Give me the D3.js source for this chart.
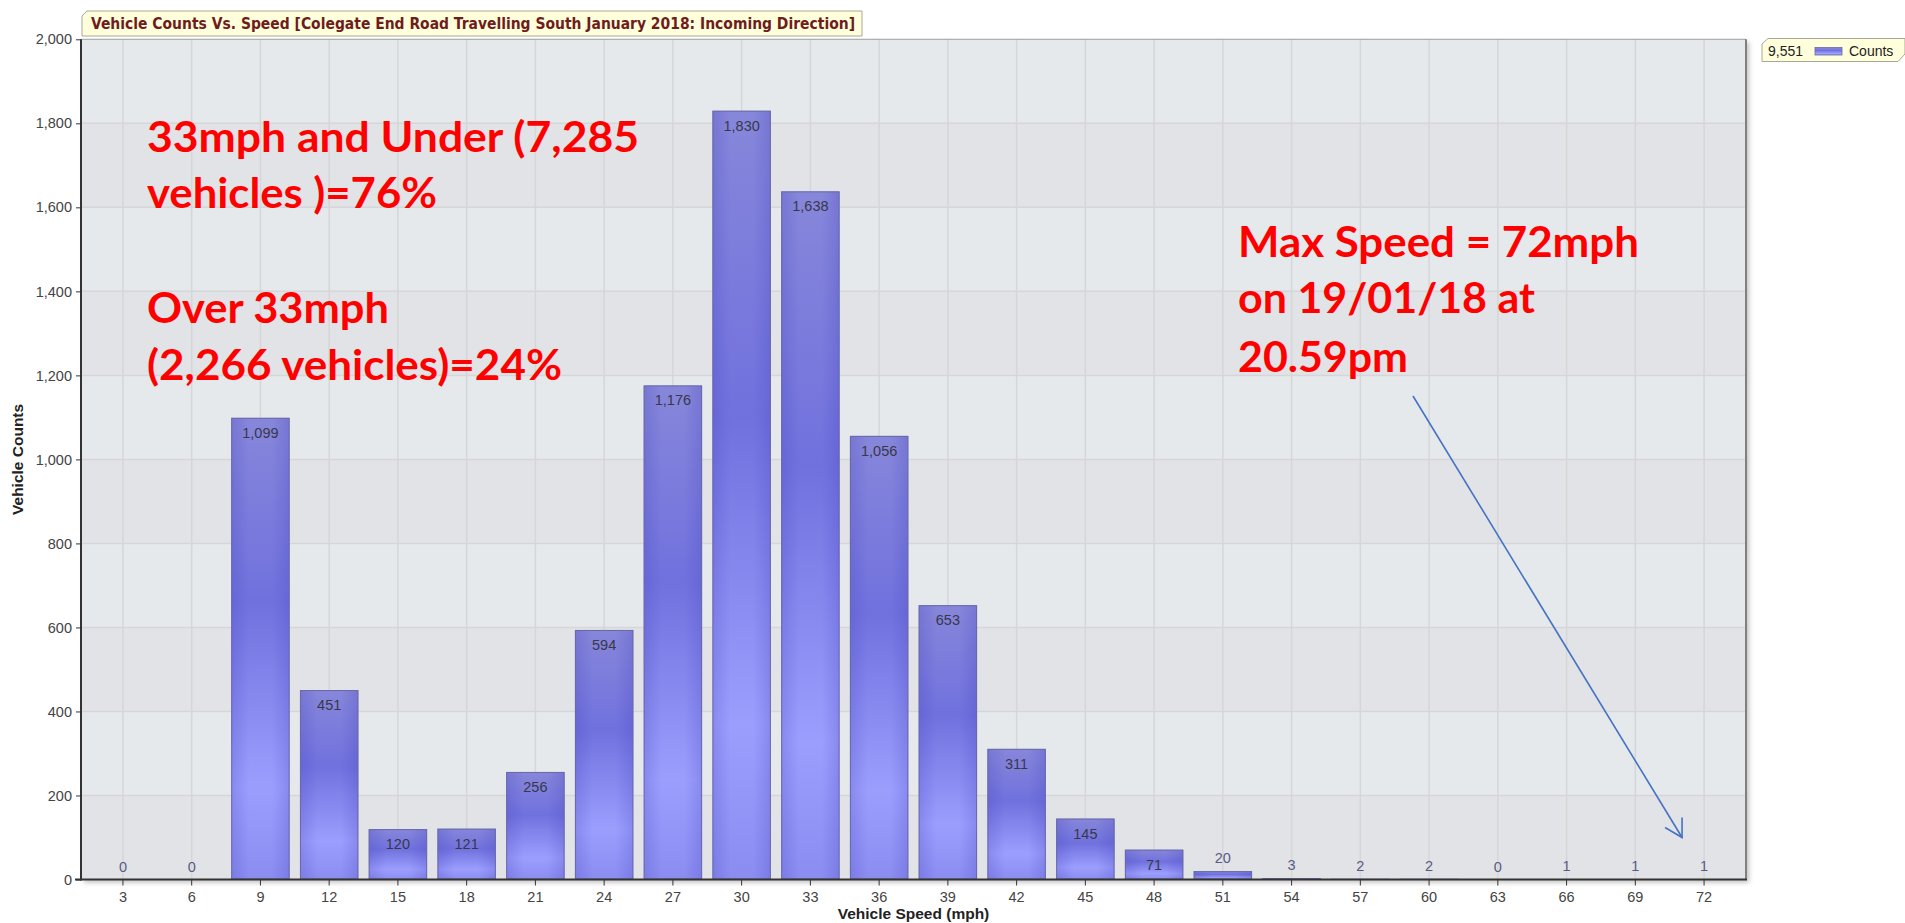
<!DOCTYPE html>
<html>
<head>
<meta charset="utf-8">
<script src="https://cdn.jsdelivr.net/npm/d3@7"></script>
<style>
  html, body { margin: 0; padding: 0; background: #fff; }
  svg { display: block; }
  .tick-lbl { font-family: 'Liberation Sans Narrow', 'Liberation Sans', Arial, sans-serif; font-size: 14.5px; fill: #444; }
  .val-lbl { font-family: 'Liberation Sans', Arial, sans-serif; font-size: 14.5px; }
  .ax-title { font-family: 'Liberation Sans', Arial, sans-serif; font-size: 15.5px; font-weight: bold; fill: #222; }
  .note { font-family: Lato, 'Open Sans', sans-serif; font-weight: 700; font-size: 42px; fill: #ff0000; }
</style>
</head>
<body>
<svg id="chart"></svg>
<script>
/* Vehicle counts vs speed - Colegate End Road */
const speeds = [3, 6, 9, 12, 15, 18, 21, 24, 27, 30, 33, 36, 39, 42, 45, 48, 51, 54, 57, 60, 63, 66, 69, 72];
const counts = [0, 0, 1099, 451, 120, 121, 256, 594, 1176, 1830, 1638, 1056, 653, 311, 145, 71, 20, 3, 2, 2, 0, 1, 1, 1];
const yTicks = [0, 200, 400, 600, 800, 1000, 1200, 1400, 1600, 1800, 2000];
const titleText = 'Vehicle Counts Vs. Speed [Colegate End Road Travelling South January 2018: Incoming Direction]';
const legendTotal = '9,551';
const legendName = 'Counts';
const notesLeft = ['33mph and Under (7,285', 'vehicles )=76%', 'Over 33mph', '(2,266 vehicles)=24%'];
const notesRight = ['Max Speed = 72mph', 'on 19/01/18 at', '20.59pm'];

const W = 1905, H = 923;
const L = 81, R = 1746, T = 39.3, B = 879.5;

const svg = d3.select('#chart').attr('width', W).attr('height', H);
const defs = svg.append('defs');

// bar shading
const gv = defs.append('linearGradient').attr('id', 'barV').attr('x1', 0).attr('y1', 0).attr('x2', 0).attr('y2', 1);
[['0%', '#8888db'], ['40%', '#7272df'], ['80%', '#9ea0ff'], ['100%', '#8c8ef2']]
    .forEach(s => gv.append('stop').attr('offset', s[0]).attr('stop-color', s[1]));
const gh = defs.append('linearGradient').attr('id', 'barH').attr('x1', 0).attr('y1', 0).attr('x2', 1).attr('y2', 0);
[['0%', 0.22], ['30%', 0.02], ['70%', 0.02], ['100%', 0.22]]
    .forEach(s => gh.append('stop').attr('offset', s[0]).attr('stop-color', '#3a3ab8').attr('stop-opacity', s[1]));
const fsh = defs.append('filter').attr('id', 'shadow').attr('x', '-5%').attr('y', '-5%').attr('width', '110%').attr('height', '110%');
fsh.append('feGaussianBlur').attr('in', 'SourceAlpha').attr('stdDeviation', 2.5);
fsh.append('feOffset').attr('dx', 3).attr('dy', 3).attr('result', 'b');
fsh.append('feComponentTransfer').append('feFuncA').attr('type', 'linear').attr('slope', 0.25);
const fm = fsh.append('feMerge');
fm.append('feMergeNode');
fm.append('feMergeNode').attr('in', 'SourceGraphic');

const x = d3.scaleBand().domain(speeds).range([L, R]).paddingInner(0.15).paddingOuter(0.185);
const y = d3.scaleLinear().domain([0, 2000]).range([B, T]);

// plot background with alternating bands
svg.append('rect').attr('x', L).attr('y', T).attr('width', R - L).attr('height', B - T)
    .attr('fill', '#e6e9ec').attr('filter', 'url(#shadow)');
svg.append('g').selectAll('rect').data(yTicks.slice(0, -1).filter((d, i) => i % 2 === 0)).enter().append('rect')
    .attr('x', L).attr('width', R - L)
    .attr('y', d => y(d + 200)).attr('height', d => y(d) - y(d + 200))
    .attr('fill', '#e2e3e6');

// grid
svg.append('g').selectAll('line').data(yTicks.slice(1, -1)).enter().append('line')
    .attr('x1', L).attr('x2', R).attr('y1', d => y(d)).attr('y2', d => y(d))
    .attr('stroke', '#d5d6d8').attr('stroke-width', 1.5);
svg.append('g').selectAll('line').data(speeds).enter().append('line')
    .attr('x1', d => x(d) + x.bandwidth() / 2).attr('x2', d => x(d) + x.bandwidth() / 2)
    .attr('y1', T).attr('y2', B)
    .attr('stroke', '#d5d6d8').attr('stroke-width', 1.5);

// frame
svg.append('line').attr('x1', L).attr('x2', R).attr('y1', T).attr('y2', T).attr('stroke', '#a0a0a0').attr('stroke-width', 1);
svg.append('line').attr('x1', R).attr('x2', R).attr('y1', T).attr('y2', B).attr('stroke', '#808080').attr('stroke-width', 2);

// bars
const bars = svg.append('g').selectAll('g').data(speeds.map((s, i) => ({ s, v: counts[i] }))).enter().append('g');
bars.filter(d => d.v > 0).append('rect')
    .attr('x', d => x(d.s)).attr('width', x.bandwidth())
    .attr('y', d => y(d.v)).attr('height', d => B - y(d.v))
    .attr('fill', 'url(#barV)');
bars.filter(d => d.v > 0).append('rect')
    .attr('x', d => x(d.s) + 0.5).attr('width', x.bandwidth() - 1)
    .attr('y', d => y(d.v) + 0.5).attr('height', d => Math.max(0, B - y(d.v) - 1))
    .attr('fill', 'url(#barH)')
    .attr('stroke', '#6a6aa6').attr('stroke-width', 1);

// value labels
bars.append('text').attr('class', 'val-lbl')
    .attr('x', d => x(d.s) + x.bandwidth() / 2)
    .attr('y', d => (B - y(d.v) > 24) ? y(d.v) + 20 : y(d.v) - 8)
    .attr('text-anchor', 'middle')
    .attr('fill', d => (B - y(d.v) > 24) ? '#38384a' : '#5a5a84')
    .text(d => d3.format(',')(d.v));

// axes
const xAxis = svg.append('g').attr('transform', `translate(0,${B})`)
    .call(d3.axisBottom(x).tickSize(6).tickSizeOuter(0));
xAxis.select('.domain').remove();
xAxis.selectAll('line').attr('stroke', '#333');
xAxis.selectAll('text').attr('class', 'tick-lbl').attr('dy', '0.95em');
svg.append('line').attr('x1', L - 6).attr('x2', R + 1).attr('y1', B).attr('y2', B).attr('stroke', '#333').attr('stroke-width', 2);

const yAxis = svg.append('g').attr('transform', `translate(${L},0)`)
    .call(d3.axisLeft(y).tickValues(yTicks).tickFormat(d3.format(',')).tickSize(5).tickSizeOuter(0));
yAxis.select('.domain').remove();
yAxis.selectAll('line').attr('stroke', '#333');
yAxis.selectAll('text').attr('class', 'tick-lbl').attr('x', -9);
svg.append('line').attr('x1', L).attr('x2', L).attr('y1', T).attr('y2', B + 1).attr('stroke', '#333').attr('stroke-width', 2);

svg.append('text').attr('class', 'ax-title').attr('x', (L + R) / 2).attr('y', 919).attr('text-anchor', 'middle')
    .text('Vehicle Speed (mph)');
svg.append('text').attr('class', 'ax-title').attr('transform', `translate(23,${(T + B) / 2}) rotate(-90)`)
    .attr('text-anchor', 'middle').text('Vehicle Counts');

// title callout
svg.append('path').attr('d', 'M87,11 H862 V36 H82 V16 Z')
    .attr('fill', '#ffffdc').attr('stroke', '#a8a898').attr('stroke-width', 1);
svg.append('text').attr('x', 91).attr('y', 29)
    .attr('font-family', "'Liberation Sans Narrow', 'DejaVu Sans Condensed', 'Liberation Sans', sans-serif")
    .attr('font-weight', 'bold').attr('font-size', 15).attr('fill', '#6e1c1c')
    .attr('textLength', 764).attr('lengthAdjust', 'spacingAndGlyphs')
    .text(titleText);

// legend callout
svg.append('path').attr('d', 'M1768,38.5 H1905 V54 L1898,61.5 H1762 V44 Z')
    .attr('fill', '#ffffdc').attr('stroke', '#a8a898').attr('stroke-width', 1);
svg.append('text').attr('x', 1768).attr('y', 55.5).attr('font-family', "'Liberation Sans', Arial, sans-serif")
    .attr('font-size', 14).attr('fill', '#222').text(legendTotal);
svg.append('rect').attr('x', 1815).attr('y', 47.5).attr('width', 27).attr('height', 7.5)
    .attr('fill', 'url(#barV)').attr('stroke', '#6a6aa6').attr('stroke-width', 0.8);
svg.append('text').attr('x', 1849).attr('y', 55.5).attr('font-family', "'Liberation Sans', Arial, sans-serif")
    .attr('font-size', 14).attr('fill', '#222').text(legendName);

// annotations
const leftBase = [151.7, 208.3, 323.3, 380];
const leftLen = [492, 290, 242, 415];
svg.append('g').selectAll('text').data(notesLeft).enter().append('text').attr('class', 'note')
    .attr('x', 147).attr('y', (d, i) => leftBase[i])
    .attr('textLength', (d, i) => leftLen[i]).attr('lengthAdjust', 'spacingAndGlyphs')
    .text(d => d);
const rightBase = [256.7, 313.3, 371.7];
const rightLen = [401, 297, 170];
svg.append('g').selectAll('text').data(notesRight).enter().append('text').attr('class', 'note')
    .attr('x', 1238).attr('y', (d, i) => rightBase[i])
    .attr('textLength', (d, i) => rightLen[i]).attr('lengthAdjust', 'spacingAndGlyphs')
    .text(d => d);

// arrow to the 72mph bar
const tip = [x(72) + x.bandwidth() / 2 - 22, y(100)];
svg.append('line').attr('x1', 1413).attr('y1', 396).attr('x2', tip[0]).attr('y2', tip[1])
    .attr('stroke', '#4472c4').attr('stroke-width', 1.6);
svg.append('path')
    .attr('d', `M${tip[0] - 17},${tip[1] - 10} L${tip[0]},${tip[1]} L${tip[0]},${tip[1] - 20}`)
    .attr('fill', 'none').attr('stroke', '#4472c4').attr('stroke-width', 1.6);
</script>
</body>
</html>
